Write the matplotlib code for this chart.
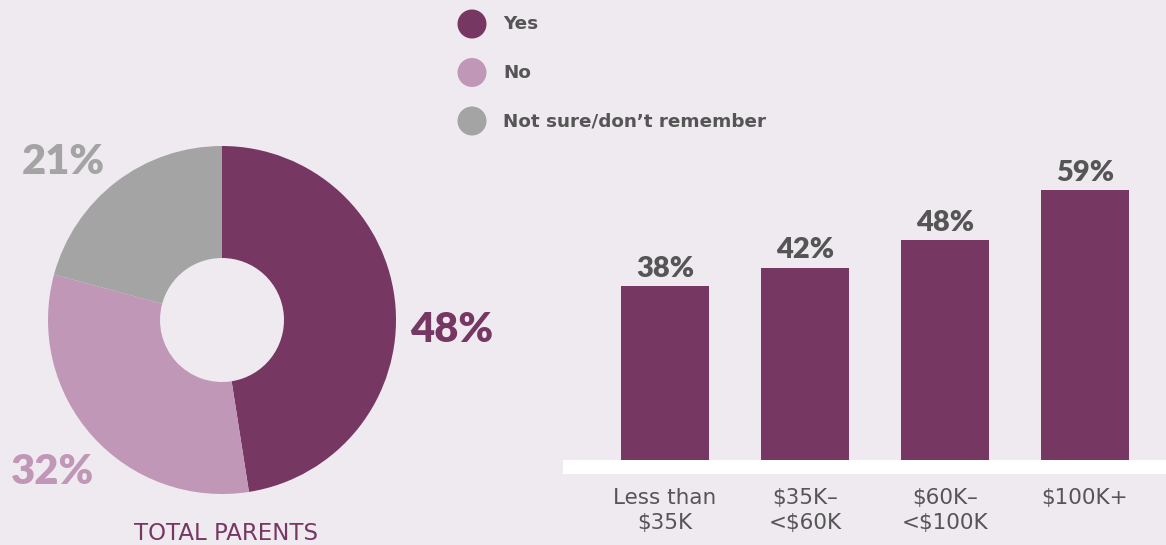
import matplotlib.pyplot as plt
from matplotlib.patches import Circle, Rectangle

plt.rcParams['font.family'] = ['Lato', 'DejaVu Sans']

# donut data
pie_labels = ['Yes', 'No', 'Not sure/don\u2019t remember']
pie_values = [48, 32, 21]
pie_colors = ['#763763', '#c197b7', '#a4a4a4']

# bar data
income_groups = ['Less than\n$35K', '$35K\u2013\n<$60K', '$60K\u2013\n<$100K', '$100K+']
yes_share = [38, 42, 48, 59]

W, H = 1166, 545
bg = '#efeaf0'
txt = '#555555'
sans = ['DejaVu Sans']

fig = plt.figure(figsize=(W / 100, H / 100), dpi=100, facecolor=bg)

# overlay axes in pixel coords for legend / free text
ov = fig.add_axes([0, 0, 1, 1], zorder=0)
ov.set_xlim(0, W)
ov.set_ylim(H, 0)
ov.axis('off')

# legend
for i, (lab, col) in enumerate(zip(pie_labels, pie_colors)):
    y = 24 + i * 48.5
    ov.add_patch(Circle((472, y), 14.5, color=col, lw=0))
    ov.text(503, y, lab, fontsize=13.2, fontweight='bold', family=sans,
            color=txt, va='center', ha='left')

# white baseline band
ov.add_patch(Rectangle((563, 460), W - 563, 14, color='white', lw=0))

# donut
cx, cy, r = 222, 320, 174
axp = fig.add_axes([(cx - r) / W, 1 - (cy + r) / H, 2 * r / W, 2 * r / H], zorder=1)
axp.pie(pie_values, colors=pie_colors, startangle=90, counterclock=False,
        radius=1, wedgeprops=dict(width=1 - 62 / 174, linewidth=0))
axp.set_xlim(-1, 1)
axp.set_ylim(-1, 1)
axp.set_aspect('equal')
axp.axis('off')

pie_txt_pos = [(452, 330), (53, 472), (63, 162)]
for (x, y), v, col in zip(pie_txt_pos, pie_values, pie_colors):
    ov.text(x, y, f'{v}%', fontsize=30, fontweight='heavy', color=col, ha='center', va='center')
ov.text(226, 533, 'TOTAL PARENTS', fontsize=16.5, family=sans,
        color='#763763', ha='center', va='center')

# bars
step = 140.0
x0 = 665
ax = fig.add_axes([563 / W, (H - 460) / H, (W - 563) / W, 310 / H], zorder=2)
ax.patch.set_alpha(0)
xs = list(range(len(yes_share)))
bars = ax.bar(xs, yes_share, width=88 / step, color='#763763', lw=0)
ax.set_xlim(-(x0 - 563) / step, (W - x0) / step)
ax.set_ylim(0, 310 / 4.58)
for b, v in zip(bars, yes_share):
    ax.annotate(f'{v}%', (b.get_x() + b.get_width() / 2, v), xytext=(0, 3),
                textcoords='offset points', ha='center', va='bottom',
                fontsize=21, fontweight='heavy', color=txt)
ax.set_xticks(xs)
ax.set_xticklabels(income_groups, fontsize=15.5, family=sans, color=txt, linespacing=1.3)
ax.tick_params(axis='x', length=0, pad=20)
ax.set_yticks([])
for s in ax.spines.values():
    s.set_visible(False)

fig.savefig('out.png', dpi=100, facecolor=bg)
